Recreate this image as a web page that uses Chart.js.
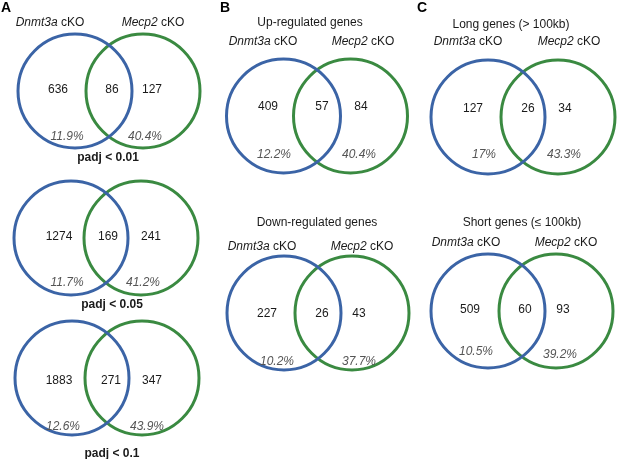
<!DOCTYPE html>
<html>
<head>
<meta charset="utf-8">
<script src="https://cdn.jsdelivr.net/npm/chart.js@4.4.1/dist/chart.umd.min.js"></script>
<style>
    body { margin: 0; background: #fff; }
    #wrap { position: relative; width: 617px; height: 459px; }
</style>
</head>
<body>
<div id="wrap"><canvas id="venn"></canvas></div>
<script>
// one entry per venn: A (padj 0.01, 0.05, 0.1), B up, B down, C long, C short
const dnmt3aOnly = [636, 1274, 1883, 409, 227, 127, 509];
const overlapCount = [86, 169, 271, 57, 26, 26, 60];
const mecp2Only = [127, 241, 347, 84, 43, 34, 93];
const dnmt3aPct = ['11.9%', '11.7%', '12.6%', '12.2%', '10.2%', '17%', '10.5%'];
const mecp2Pct = ['40.4%', '41.2%', '43.9%', '40.4%', '37.7%', '43.3%', '39.2%'];
const vennTitles = ['', '', '', 'Up-regulated genes', 'Down-regulated genes', 'Long genes (> 100kb)', 'Short genes (\u2264 100kb)'];
const vennCaptions = ['padj < 0.01', 'padj < 0.05', 'padj < 0.1', '', '', '', ''];
const setNames = ['Dnmt3a', 'Mecp2'];
const showSetNames = [true, false, false, true, true, true, true];
const panelLetters = ['A', 'B', 'C'];

// where things sit on the page (pixels)
const vennBoxes = [
    { cx: 109, cy: 91, d: 68, numY: 90, numX: [58, 112, 152], pctY: [137, 137], pctX: [67, 145], labY: 23, labX: [50, 153], capY: 158, capX: 108 },
    { cx: 106, cy: 238, d: 70, numY: 237, numX: [59, 108, 151], pctY: [283, 283], pctX: [67, 143], capY: 305, capX: 112 },
    { cx: 107, cy: 378, d: 70, numY: 381, numX: [59, 111, 152], pctY: [427, 427], pctX: [63, 147], capY: 454, capX: 112 },
    { cx: 317, cy: 116, d: 67, numY: 107, numX: [268, 322, 361], pctY: [155, 155], pctX: [274, 359], labY: 42, labX: [263, 363], titleY: 23, titleX: 310 },
    { cx: 318, cy: 313, d: 68, numY: 314, numX: [267, 322, 359], pctY: [362, 362], pctX: [277, 359], labY: 247, labX: [262, 362], titleY: 223, titleX: 317 },
    { cx: 523, cy: 117, d: 70, numY: 109, numX: [473, 528, 565], pctY: [155, 155], pctX: [484, 564], labY: 42, labX: [468, 569], titleY: 25, titleX: 511 },
    { cx: 522, cy: 311, d: 68, numY: 310, numX: [470, 525, 563], pctY: [352, 355], pctX: [476, 560], labY: 243, labX: [466, 566], titleY: 223, titleX: 522 }
];
const letterSpots = [[1, 8], [220, 8], [417, 8]];
const circleR = 57;
const blue = '#3b64a6';
const green = '#3a8a41';
const fontFam = '"Liberation Sans", Arial, sans-serif';

const vennText = {
    id: 'vennText',
    afterDatasetsDraw(chart) {
        const ctx = chart.ctx;
        const xs = chart.scales.x;
        const ys = chart.scales.y;
        const px = v => xs.getPixelForValue(v);
        const py = v => ys.getPixelForValue(v);

        ctx.save();
        ctx.textBaseline = 'middle';

        // panel letters
        ctx.fillStyle = '#000';
        ctx.textAlign = 'left';
        ctx.font = 'bold 14px ' + fontFam;
        panelLetters.forEach((l, i) => ctx.fillText(l, px(letterSpots[i][0]), py(letterSpots[i][1])));

        vennBoxes.forEach((b, i) => {
            ctx.textAlign = 'center';

            // counts
            ctx.fillStyle = '#1a1a1a';
            ctx.font = '12px ' + fontFam;
            [dnmt3aOnly[i], overlapCount[i], mecp2Only[i]].forEach((n, k) => {
                ctx.fillText(String(n), px(b.numX[k]), py(b.numY));
            });

            // percentages
            ctx.fillStyle = '#555';
            ctx.font = 'italic 12px ' + fontFam;
            ctx.fillText(dnmt3aPct[i], px(b.pctX[0]), py(b.pctY[0]));
            ctx.fillText(mecp2Pct[i], px(b.pctX[1]), py(b.pctY[1]));

            // titles
            ctx.fillStyle = '#1a1a1a';
            if (vennTitles[i]) {
                ctx.font = '12px ' + fontFam;
                ctx.fillText(vennTitles[i], px(b.titleX), py(b.titleY));
            }
            if (vennCaptions[i]) {
                ctx.font = 'bold 12px ' + fontFam;
                ctx.fillText(vennCaptions[i], px(b.capX), py(b.capY));
            }

            // set names: italic gene + plain cKO
            if (showSetNames[i]) {
                ctx.textAlign = 'left';
                setNames.forEach((name, k) => {
                    ctx.font = 'italic 12px ' + fontFam;
                    const w1 = ctx.measureText(name).width;
                    ctx.font = '12px ' + fontFam;
                    const w2 = ctx.measureText(' cKO').width;
                    const x0 = px(b.labX[k]) - (w1 + w2) / 2;
                    ctx.font = 'italic 12px ' + fontFam;
                    ctx.fillText(name, x0, py(b.labY));
                    ctx.font = '12px ' + fontFam;
                    ctx.fillText(' cKO', x0 + w1, py(b.labY));
                });
            }
        });
        ctx.restore();
    }
};

const ctx = document.getElementById('venn').getContext('2d');
new Chart(ctx, {
    type: 'bubble',
    data: {
        datasets: [
            {
                label: 'Dnmt3a cKO',
                data: vennBoxes.map(b => ({ x: b.cx - b.d / 2, y: b.cy, r: circleR })),
                borderColor: blue,
                backgroundColor: 'rgba(0,0,0,0)',
                borderWidth: 3,
                clip: false
            },
            {
                label: 'Mecp2 cKO',
                data: vennBoxes.map(b => ({ x: b.cx + b.d / 2, y: b.cy, r: circleR })),
                borderColor: green,
                backgroundColor: 'rgba(0,0,0,0)',
                borderWidth: 3,
                clip: false
            }
        ]
    },
    options: {
        responsive: true,
        maintainAspectRatio: false,
        animation: false,
        events: [],
        layout: { padding: 0, autoPadding: false },
        plugins: {
            legend: { display: false },
            tooltip: { enabled: false }
        },
        scales: {
            x: { type: 'linear', min: 0, max: 617, display: false },
            y: { type: 'linear', min: 0, max: 459, reverse: true, display: false }
        }
    },
    plugins: [vennText]
});
</script>
</body>
</html>
